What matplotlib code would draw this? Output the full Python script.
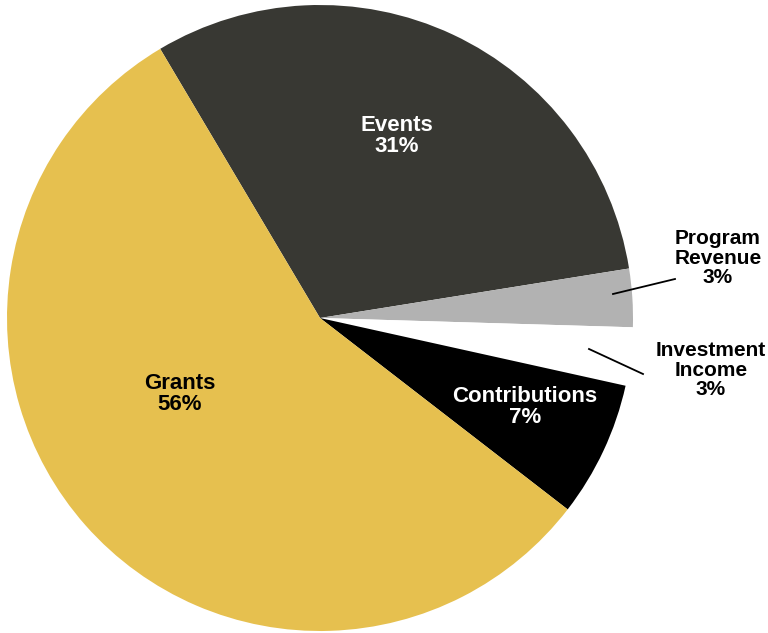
import matplotlib
matplotlib.use('Agg')
import matplotlib.pyplot as plt

labels = ['Events', 'Program\nRevenue', 'Investment\nIncome', 'Contributions', 'Grants']
values = [31, 3, 3, 7, 56]
colors = ['#383833', '#b2b2b2', '#ffffff', '#000000', '#e6c04f']
text_colors = ['white', 'black', 'black', 'white', 'black']

plt.rcParams['font.family'] = ['Liberation Sans', 'DejaVu Sans']

W, H = 768, 633
fig = plt.figure(figsize=(W/100, H/100), dpi=100)
cx, cy, r = 320, 318, 313
ax = fig.add_axes([(cx - r)/W, (H - cy - r)/H, 2*r/W, 2*r/H])

ax.pie(values, colors=colors, startangle=120.7, counterclock=False, radius=1,
       wedgeprops=dict(linewidth=0))
ax.set_xlim(-1, 1)
ax.set_ylim(-1, 1)
ax.axis('off')

def px(x, y):
    return (x - cx)/r, (cy - y)/r

# labels (pixel positions)
label_pos = [(397, 136), (718, 258), (711, 370), (525, 407), (180, 394)]
sizes = [16, 15, 15, 16, 16]
for lab, v, (x, y), tc, fs in zip(labels, values, label_pos, text_colors, sizes):
    tx, ty = px(x, y)
    ax.text(tx, ty, f'{lab}\n{v}%', ha='center', va='center', color=tc,
            fontsize=fs, fontweight='bold', linespacing=1.05, clip_on=False)

# leader lines
for (x0, y0), (x1, y1) in [((613, 294), (675, 279)), ((589, 349), (643, 374))]:
    a, b = px(x0, y0)
    c, d = px(x1, y1)
    ax.plot([a, c], [b, d], color='black', lw=1.3, clip_on=False)

fig.savefig('out.png', dpi=100)
